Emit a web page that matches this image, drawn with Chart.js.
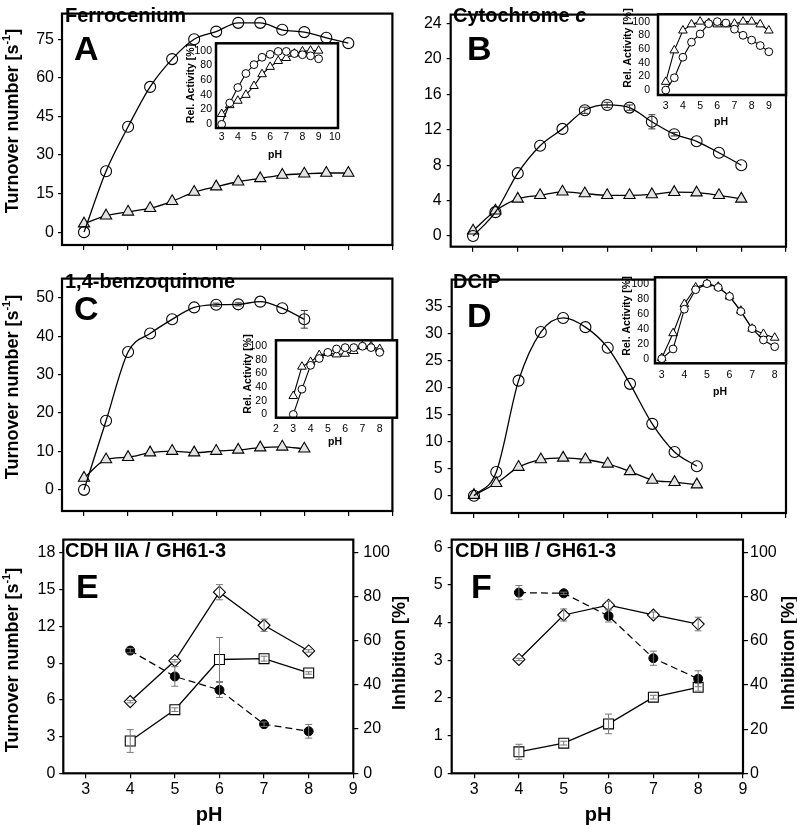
<!DOCTYPE html>
<html><head><meta charset="utf-8">
<script src="https://cdn.jsdelivr.net/npm/chart.js@4.4.0/dist/chart.umd.min.js"></script>
<style>
html,body{margin:0;padding:0;background:#fff;}
#wrap{position:relative;width:797px;height:825px;overflow:hidden;background:#fff;}
#wrap canvas{position:absolute;}
</style></head><body><div id="wrap"></div>
<script>
// ================= DATA =================
const pH_AB = [3,3.5,4,4.5,5,5.5,6,6.5,7,7.5,8,8.5,9];
const pH_CD = [3,3.5,4,4.5,5,5.5,6,6.5,7,7.5,8];
const pH_EF = [4,5,6,7,8];

// A - Ferrocenium
const ferroCircle   = [0,23.7,41,56.5,67.3,75,78,81.4,81.4,78.7,77.8,75.6,73.5];
const ferroTriangle = [3.3,6.4,7.9,9.3,12,15.6,17.7,19.6,20.9,22.2,22.7,23,23];
const ferroInsetCircle   = [0,29,50,69,81,91,95,99,99,96,94.5,93,89];
const ferroInsetTriangle = [14,26,32,40,52,68,78,86,90,96,99,100,100];

// B - Cytochrome c
const cytCircle    = [0,2.7,7.1,10.2,12.1,14.2,14.8,14.5,12.9,11.5,10.7,9.4,8.0];
const cytCircleErr = [0,0,0,0,0,0.35,0.3,0.3,0.8,0.2,0,0,0];
const cytTriangle  = [0.6,2.85,4.2,4.6,5.0,4.8,4.6,4.6,4.7,4.95,4.9,4.6,4.2];
const cytInsetCircle   = [0,18,48,70,82,97,100,98,89,80,73,65,56];
const cytInsetTriangle = [12,58,87,96,100,98,96,96,97,100,100,96,87];

// C - 1,4-benzoquinone
const bqCircle    = [0,18,35.9,40.7,44.4,47.5,48.2,48.3,49,47.3,44.4];
const bqCircleErr = [0,0,0,0,0,0,0.4,0.4,0,0,2.3];
const bqTriangle  = [3.1,7.9,8.5,9.7,10.1,9.7,10.1,10.4,11.0,11.2,10.7];
const bqInsetCircle   = [0,37,72,82,91,96,98,98,100,98,91];
const bqInsetTriangle = [27,70,77,87,90,88,89,93,100,100,96];

// D - DCIP
const dcipCircle   = [0,4.4,21.3,30.3,32.9,31.2,27.4,20.7,13.3,8.1,5.45];
const dcipTriangle = [0.1,2.3,5.3,6.7,7.0,6.7,5.9,4.5,2.9,2.5,2.05];
const dcipInsetCircle   = [0,13,66,92,100,95,83,63,40,25,16];
const dcipInsetTriangle = [1,34,73,95,100,96,83,64,40,33,28];

// E - CDH IIA / GH61-3
const eDiamond    = [5.86,9.2,14.8,12.1,10.0];
const eDiamondErr = [0.1,0.1,0.62,0.5,0.1];
const eSquare     = [2.64,5.2,9.3,9.37,8.2];
const eSquareErr  = [0.93,0.15,1.8,0.2,0.1];
const eInhib      = [55.5,43.8,37.7,22.2,19.0];
const eInhibErr   = [1,4.4,3.4,1,3.1];

// F - CDH IIB / GH61-3
const fDiamond    = [3.02,4.2,4.46,4.2,3.96];
const fDiamondErr = [0.03,0.16,0.1,0.08,0.18];
const fSquare     = [0.57,0.8,1.31,2.02,2.28];
const fSquareErr  = [0.2,0.05,0.26,0.05,0.1];
const fInhib      = [81.8,81.5,71.2,52.1,42.8];
const fInhibErr   = [3.2,0.5,2.7,3.2,3.6];

// tick labels
const xTicksMain = [3,4,5,6,7,8,9,10];
const xTicksEF   = [3,4,5,6,7,8,9];
const yTicksA = [0,15,30,45,60,75];
const yTicksB = [0,4,8,12,16,20,24];
const yTicksC = [0,10,20,30,40,50];
const yTicksD = [0,5,10,15,20,25,30,35];
const yTicksE = [0,3,6,9,12,15,18];
const yTicksF = [0,1,2,3,4,5,6];
const inhibTicks = [0,20,40,60,80,100];
const insetYTicks = [0,20,40,60,80,100];
const insetXTicksA = [3,4,5,6,7,8,9,10];
const insetXTicksB = [3,4,5,6,7,8,9];
const insetXTicksC = [2,3,4,5,6,7,8];
const insetXTicksD = [3,4,5,6,7,8];

// ================= HELPERS =================
const FONT = "'Liberation Sans', Arial, Helvetica, sans-serif";
Chart.defaults.font.family = FONT;
Chart.defaults.color = '#000';
const B = s => `bold ${s}px ${FONT}`;
const BI = s => `italic bold ${s}px ${FONT}`;
const WRAP = document.getElementById('wrap');
const pts = (xs, ys) => xs.map((x, i) => ({x, y: ys[i]}));

const TITLE_TURNOVER = [
  {t:'Turnover number [s', f:B(18)},
  {t:'-1', f:B(11), dy:-6},
  {t:']', f:B(18)}
];

function drawItem(ctx, it, ox, oy) {
  ctx.save();
  ctx.translate(it.x - ox, it.y - oy);
  if (it.rot) ctx.rotate(it.rot * Math.PI / 180);
  ctx.fillStyle = '#000';
  ctx.textBaseline = it.base || 'alphabetic';
  ctx.textAlign = 'left';
  const parts = it.parts || [{t: it.t, f: it.f}];
  let total = 0;
  parts.forEach(p => { ctx.font = p.f || it.f; p._w = ctx.measureText(p.t).width; total += p._w; });
  let x = it.align === 'center' ? -total / 2 : 0;
  parts.forEach(p => { ctx.font = p.f || it.f; ctx.fillText(p.t, x, p.dy || 0); x += p._w; });
  ctx.restore();
}

function makeChart(rect, area, o) {
  const [cx, cy, cw, ch] = rect;
  const cv = document.createElement('canvas');
  cv.width = cw; cv.height = ch;
  Object.assign(cv.style, {left: cx + 'px', top: cy + 'px', width: cw + 'px', height: ch + 'px'});
  WRAP.appendChild(cv);
  const leftW = area[0] - cx, topP = area[1] - cy, rightW = cx + cw - area[2], botH = cy + ch - area[3];
  const axis = (a, pos, fitFn) => ({
    type: 'linear', position: pos, min: a.min, max: a.max,
    afterBuildTicks: s => { s.ticks = a.ticks.map(v => ({value: v})); },
    afterFit: fitFn,
    grid: {display: true, drawOnChartArea: false, drawTicks: (a.tl || 0) > 0, tickLength: a.tl || 0, color: '#000', lineWidth: 1.2},
    border: {display: false},
    ticks: {display: a.show !== false, font: {size: a.fs || 16}, padding: a.pad || 0, color: '#000',
            autoSkip: false, maxRotation: 0, minRotation: 0}
  });
  const scales = {
    x: axis(o.x, 'bottom', s => { s.height = botH; }),
    y: axis(o.y, 'left', s => { s.width = leftW; })
  };
  if (o.y2) scales.y2 = axis(o.y2, 'right', s => { s.width = rightW; });
  const frameW = o.frame || 2.2;
  const plugins = [
    {id: 'bg', beforeDraw(chart) {
      if (!o.whiteBg) return;
      const a = chart.chartArea, ctx = chart.ctx;
      ctx.save(); ctx.fillStyle = '#fff'; ctx.fillRect(a.left, a.top, a.right - a.left, a.bottom - a.top); ctx.restore();
    }},
    {id: 'err', afterDatasetsDraw(chart) {
      const ctx = chart.ctx;
      chart.data.datasets.forEach(d => {
        if (!d.errors) return;
        const xs = chart.scales.x, ys = chart.scales[d.yAxisID || 'y'];
        ctx.save(); ctx.strokeStyle = d.errColor || '#666'; ctx.lineWidth = 1;
        d.data.forEach((p, i) => {
          const e = d.errors[i]; if (!e) return;
          const x = xs.getPixelForValue(p.x), y1 = ys.getPixelForValue(p.y + e), y2 = ys.getPixelForValue(p.y - e);
          ctx.beginPath();
          ctx.moveTo(x, y1); ctx.lineTo(x, y2);
          ctx.moveTo(x - 3.5, y1); ctx.lineTo(x + 3.5, y1);
          ctx.moveTo(x - 3.5, y2); ctx.lineTo(x + 3.5, y2);
          ctx.stroke();
        });
        ctx.restore();
      });
    }},
    {id: 'frameText', afterDraw(chart) {
      const a = chart.chartArea, ctx = chart.ctx;
      ctx.save(); ctx.strokeStyle = '#000'; ctx.lineWidth = frameW;
      ctx.strokeRect(a.left, a.top, a.right - a.left, a.bottom - a.top); ctx.restore();
      (o.texts || []).forEach(it => drawItem(ctx, it, cx, cy));
    }}
  ];
  new Chart(cv, {
    type: 'line',
    data: {datasets: o.datasets},
    options: {
      responsive: false, animation: false, devicePixelRatio: 1, events: [],
      layout: {padding: {left: 0, top: topP, right: o.y2 ? 0 : rightW, bottom: 0}},
      scales,
      plugins: {legend: {display: false}, tooltip: {enabled: false}}
    },
    plugins
  });
}

// styles
const MAIN_CIRCLE = {pointStyle: 'circle', pointRadius: 5.5, pointBackgroundColor: 'rgba(255,255,255,0)', pointBorderColor: '#000',
  pointBorderWidth: 1.1, borderColor: '#000', borderWidth: 1.3, cubicInterpolationMode: 'monotone', fill: false, clip: false, errColor: '#333'};
const MAIN_TRI = {pointStyle: 'triangle', pointRadius: 6.5, pointBackgroundColor: '#e4e4e4', pointBorderColor: '#000',
  pointBorderWidth: 1.1, borderColor: '#000', borderWidth: 1.3, cubicInterpolationMode: 'monotone', fill: false, clip: false};
const IN_CIRCLE = {pointStyle: 'circle', pointRadius: 3.9, pointBackgroundColor: '#fff', pointBorderColor: '#000',
  pointBorderWidth: 1, borderColor: '#000', borderWidth: 1.1, tension: 0, fill: false, clip: false};
const IN_TRI = {pointStyle: 'triangle', pointRadius: 5, pointBackgroundColor: '#fff', pointBorderColor: '#000',
  pointBorderWidth: 1, borderColor: '#000', borderWidth: 1.1, tension: 0, fill: false, clip: false};
const EF_DIA = {pointStyle: 'rectRot', pointRadius: 6, pointBackgroundColor: '#fff', pointBorderColor: '#000',
  pointBorderWidth: 1.1, borderColor: '#000', borderWidth: 1.3, tension: 0, fill: false, clip: false, errColor: '#777'};
const EF_SQ = {pointStyle: 'rect', pointRadius: 7, pointBackgroundColor: '#fff', pointBorderColor: '#000',
  pointBorderWidth: 1.1, borderColor: '#000', borderWidth: 1.3, tension: 0, fill: false, clip: false, errColor: '#777'};
const EF_DOT = {pointStyle: 'circle', pointRadius: 4.5, pointBackgroundColor: '#000', pointBorderColor: '#000',
  pointBorderWidth: 1, borderColor: '#000', borderWidth: 1.2, borderDash: [7, 4], tension: 0, fill: false, clip: false,
  yAxisID: 'y2', errColor: '#777'};

const mk = (style, xs, ys, extra) => Object.assign({}, style, {data: pts(xs, ys)}, extra || {});

// ================= MAIN PANELS =================
// A
makeChart([0, 0, 400, 265], [62, 1, 397, 245], {
  x: {min: 2.5, max: 10, ticks: xTicksMain, tl: 5, show: false},
  y: {min: -5, max: 85, ticks: yTicksA, tl: 4, fs: 16, pad: 4},
  datasets: [mk(MAIN_CIRCLE, pH_AB, ferroCircle), mk(MAIN_TRI, pH_AB, ferroTriangle)],
  texts: [
    {t: 'Ferrocenium', x: 65, y: 21.5, f: B(20)},
    {t: 'A', x: 74, y: 60, f: B(34)},
    {parts: TITLE_TURNOVER, x: 13, y: 121, rot: -90, align: 'center', base: 'middle'}
  ]
});
// B
makeChart([400, 0, 397, 265], [450.7, 1.5, 786, 246.7], {
  x: {min: 2.5, max: 10, ticks: xTicksMain, tl: 5, show: false},
  y: {min: -1.2, max: 25, ticks: yTicksB, tl: 4, fs: 16, pad: 5},
  datasets: [mk(MAIN_CIRCLE, pH_AB, cytCircle, {errors: cytCircleErr}), mk(MAIN_TRI, pH_AB, cytTriangle)],
  texts: [
    {parts: [{t: 'Cytochrome ', f: B(20)}, {t: 'c', f: BI(20)}], x: 453, y: 21.5},
    {t: 'B', x: 467, y: 60, f: B(34)}
  ]
});
// C
makeChart([0, 265, 400, 265], [62, 268, 397, 511], {
  x: {min: 2.5, max: 10, ticks: xTicksMain, tl: 5, show: false},
  y: {min: -5.5, max: 55, ticks: yTicksC, tl: 4, fs: 16, pad: 4},
  datasets: [mk(MAIN_CIRCLE, pH_CD, bqCircle, {errors: bqCircleErr}), mk(MAIN_TRI, pH_CD, bqTriangle)],
  texts: [
    {t: '1,4-benzoquinone', x: 65, y: 288, f: B(20)},
    {t: 'C', x: 74, y: 320, f: B(34)},
    {parts: TITLE_TURNOVER, x: 13, y: 387, rot: -90, align: 'center', base: 'middle'}
  ]
});
// D
makeChart([400, 265, 397, 265], [451.7, 269, 786, 513], {
  x: {min: 2.5, max: 10, ticks: xTicksMain, tl: 5, show: false},
  y: {min: -3.2, max: 40, ticks: yTicksD, tl: 4, fs: 16, pad: 5},
  datasets: [mk(MAIN_CIRCLE, pH_CD, dcipCircle), mk(MAIN_TRI, pH_CD, dcipTriangle)],
  texts: [
    {t: 'DCIP', x: 453, y: 288, f: B(20)},
    {t: 'D', x: 467, y: 326.5, f: B(34)}
  ]
});

// ================= INSETS =================
makeChart([178, 33, 166, 132], [216, 39, 338, 128], {
  whiteBg: true, frame: 2.5,
  x: {min: 2.65, max: 10.2, ticks: insetXTicksA, fs: 10.5, pad: 3},
  y: {min: -5, max: 110, ticks: insetYTicks, fs: 10.5, pad: 4},
  datasets: [mk(IN_CIRCLE, pH_AB, ferroInsetCircle), mk(IN_TRI, pH_AB, ferroInsetTriangle)],
  texts: [
    {t: 'Rel. Activity [%]', x: 191, y: 83.5, f: B(10.5), rot: -90, align: 'center', base: 'middle'},
    {t: 'pH', x: 275, y: 155, f: B(10.5), align: 'center', base: 'middle'}
  ]
});
makeChart([615, 0, 182, 130], [658, 1.5, 786, 95], {
  whiteBg: true, frame: 2.5,
  x: {min: 2.55, max: 10, ticks: insetXTicksB, fs: 10.5, pad: 4.7},
  y: {min: -7.2, max: 110.7, ticks: insetYTicks, fs: 10.5, pad: 8},
  datasets: [mk(IN_CIRCLE, pH_AB, cytInsetCircle), mk(IN_TRI, pH_AB, cytInsetTriangle)],
  texts: [
    {t: 'Rel. Activity [%]', x: 628, y: 48, f: B(10.5), rot: -90, align: 'center', base: 'middle'},
    {t: 'pH', x: 721, y: 122.5, f: B(10.5), align: 'center', base: 'middle'}
  ]
});
makeChart([235, 325, 168, 125], [276, 330, 397, 417.7], {
  whiteBg: true, frame: 2.5,
  x: {min: 2, max: 9, ticks: insetXTicksC, fs: 10.5, pad: 5},
  y: {min: -4.8, max: 108.7, ticks: insetYTicks, fs: 10.5, pad: 9},
  datasets: [mk(IN_CIRCLE, pH_CD, bqInsetCircle), mk(IN_TRI, pH_CD, bqInsetTriangle)],
  texts: [
    {t: 'Rel. Activity [%]', x: 248, y: 374, f: B(10.5), rot: -90, align: 'center', base: 'middle'},
    {t: 'pH', x: 335, y: 441.7, f: B(10.5), align: 'center', base: 'middle'}
  ]
});
makeChart([612, 265, 185, 135], [655, 269, 786, 363.3], {
  whiteBg: true, frame: 2.5,
  x: {min: 2.7, max: 8.5, ticks: insetXTicksD, fs: 10.5, pad: 5.4},
  y: {min: -6.1, max: 108.5, ticks: insetYTicks, fs: 10.5, pad: 6},
  datasets: [mk(IN_CIRCLE, pH_CD, dcipInsetCircle), mk(IN_TRI, pH_CD, dcipInsetTriangle)],
  texts: [
    {t: 'Rel. Activity [%]', x: 627, y: 316, f: B(10.5), rot: -90, align: 'center', base: 'middle'},
    {t: 'pH', x: 720, y: 392, f: B(10.5), align: 'center', base: 'middle'}
  ]
});

// ================= E / F =================
makeChart([0, 525, 412, 300], [63.3, 532, 353.3, 773.3], {
  x: {min: 2.5, max: 9, ticks: xTicksEF, tl: 5, fs: 16, pad: 2},
  y: {min: 0, max: 19.1, ticks: yTicksE, tl: 4, fs: 16, pad: 4},
  y2: {min: 0, max: 105.7, ticks: inhibTicks, tl: 5, fs: 16, pad: 5},
  datasets: [
    mk(EF_DOT, pH_EF, eInhib, {errors: eInhibErr}),
    mk(EF_DIA, pH_EF, eDiamond, {errors: eDiamondErr}),
    mk(EF_SQ, pH_EF, eSquare, {errors: eSquareErr})
  ],
  texts: [
    {t: 'CDH IIA / GH61-3', x: 65, y: 556.5, f: B(20)},
    {t: 'E', x: 76, y: 598, f: B(34)},
    {parts: TITLE_TURNOVER, x: 13, y: 660, rot: -90, align: 'center', base: 'middle'},
    {t: 'Inhibition [%]', x: 400, y: 653, f: B(18), rot: -90, align: 'center', base: 'middle'},
    {t: 'pH', x: 209, y: 815, f: B(20), align: 'center', base: 'middle'}
  ]
});
makeChart([400, 525, 397, 300], [451.7, 531.7, 743, 773.3], {
  x: {min: 2.5, max: 9, ticks: xTicksEF, tl: 5, fs: 16, pad: 2},
  y: {min: 0, max: 6.2, ticks: yTicksF, tl: 4, fs: 16, pad: 5},
  y2: {min: 0, max: 105.8, ticks: inhibTicks, tl: 5, fs: 16, pad: 2},
  datasets: [
    mk(EF_DOT, pH_EF, fInhib, {errors: fInhibErr}),
    mk(EF_DIA, pH_EF, fDiamond, {errors: fDiamondErr}),
    mk(EF_SQ, pH_EF, fSquare, {errors: fSquareErr})
  ],
  texts: [
    {t: 'CDH IIB / GH61-3', x: 455, y: 556.5, f: B(20)},
    {t: 'F', x: 471, y: 598, f: B(34)},
    {t: 'Inhibition [%]', x: 789, y: 653, f: B(18), rot: -90, align: 'center', base: 'middle'},
    {t: 'pH', x: 598, y: 815, f: B(20), align: 'center', base: 'middle'}
  ]
});
</script>
</body></html>
